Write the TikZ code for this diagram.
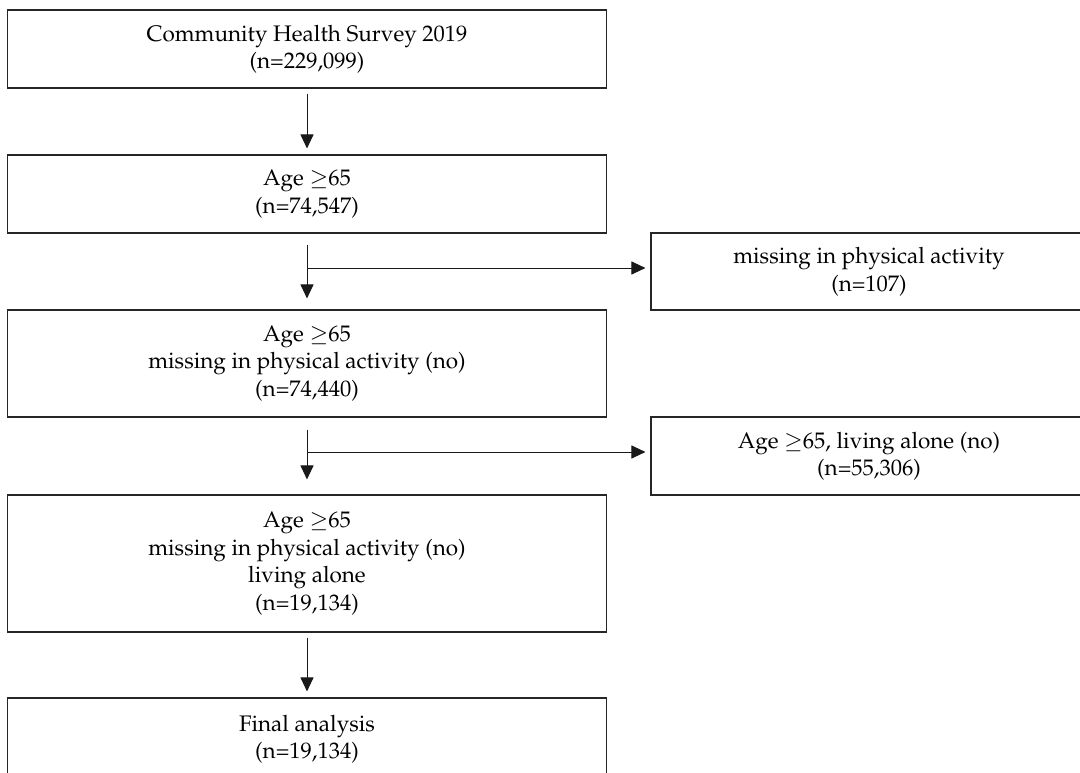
\documentclass[tikz,border=0pt]{standalone}
\usepackage[T1]{fontenc}
\usepackage{mathpazo}
\usetikzlibrary{arrows.meta}
\tikzset{
  box/.style={draw=black!85, line width=1.1pt, fill=white, align=center, inner sep=0pt,
    font=\fontsize{22.5}{27.5}\selectfont},
  arr/.style={draw=black!90, line width=1pt, -{Triangle[length=14pt,width=13pt]}},
  ln/.style={draw=black!90, line width=1pt}
}
\begin{document}
\begin{tikzpicture}[x=1pt,y=-1pt]
\useasboundingbox (0,0) rectangle (1080,773);
\clip (0,0) rectangle (1080,773);
\node[box, minimum width=598.5pt, minimum height=78pt] (b1) at (307,49)
  {Community Health Survey 2019\\(n=229,099)};
\node[box, minimum width=598.5pt, minimum height=78pt] (b2) at (307,194)
  {Age $\geq$65\\(n=74,547)};
\node[box, minimum width=598.5pt, minimum height=107pt] (b3) at (307,363.5)
  {Age $\geq$65\\missing in physical activity (no)\\(n=74,440)};
\node[box, minimum width=598.5pt, minimum height=137pt] (b4) at (307,563.5)
  {Age $\geq$65\\missing in physical activity (no)\\living alone\\(n=19,134)};
\node[box, minimum width=598.5pt, minimum height=82pt] (b5) at (307,739)
  {Final analysis\\(n=19,134)};
\node[box, minimum width=436pt, minimum height=77pt] (r1) at (869,271.5)
  {missing in physical activity\\(n=107)};
\node[box, minimum width=436pt, minimum height=78pt] (r2) at (869,456)
  {Age $\geq$65, living alone (no)\\(n=55,306)};
% arrows
\draw[arr] ([yshift=-5pt]b1.south) -- ([yshift=6pt]b2.north);
\coordinate (s2) at ([yshift=-11pt]b2.south);
\coordinate (j1) at (307,268);
\draw[arr] (s2) -- ([yshift=11pt]b3.north);
\draw[arr, shorten >=5pt] (j1) -- (j1 -| r1.west);
\coordinate (s3) at ([yshift=-12pt]b3.south);
\coordinate (j2) at (307,452);
\draw[arr] (s3) -- ([yshift=15pt]b4.north);
\draw[arr, shorten >=5pt] (j2) -- (j2 -| r2.west);
\draw[arr] ([yshift=-5pt]b4.south) -- ([yshift=6pt]b5.north);
\end{tikzpicture}
\end{document}
